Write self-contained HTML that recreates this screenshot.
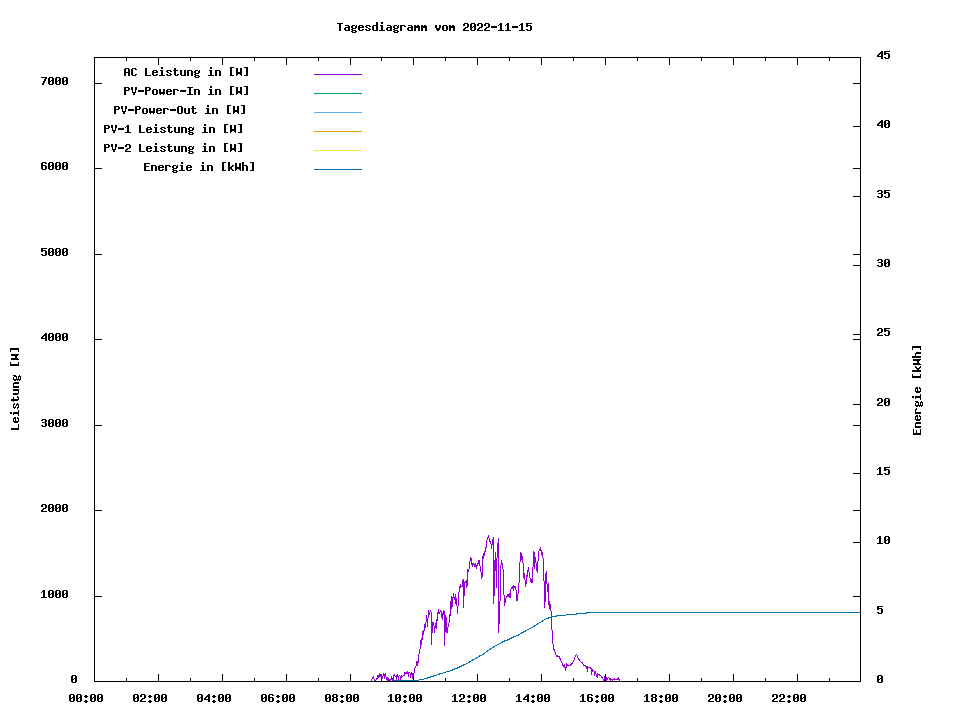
<!DOCTYPE html>
<html><head><meta charset="utf-8"><title>Tagesdiagramm vom 2022-11-15</title>
<style>
html,body{margin:0;padding:0;background:#fff;}
body{width:960px;height:720px;overflow:hidden;}
svg{display:block;}
text{font-family:"Liberation Mono",monospace;font-weight:bold;font-size:13.6px;fill:transparent;}
</style></head><body>
<svg width="960" height="720" viewBox="0 0 960 720">
<defs>
<path id="c45" d="M0 6h6v1h-6zM0 7h6v1h-6z"/>
<path id="c48" d="M1 3h4v1h-4zM0 4h2v1h-2zM4 4h2v1h-2zM0 5h2v1h-2zM4 5h2v1h-2zM0 6h2v1h-2zM3 6h3v1h-3zM0 7h3v1h-3zM4 7h2v1h-2zM0 8h2v1h-2zM4 8h2v1h-2zM0 9h2v1h-2zM4 9h2v1h-2zM1 10h4v1h-4z"/>
<path id="c49" d="M2 3h2v1h-2zM1 4h3v1h-3zM0 5h1v1h-1zM2 5h2v1h-2zM2 6h2v1h-2zM2 7h2v1h-2zM2 8h2v1h-2zM2 9h2v1h-2zM0 10h6v1h-6z"/>
<path id="c50" d="M1 3h4v1h-4zM0 4h2v1h-2zM4 4h2v1h-2zM0 5h2v1h-2zM4 5h2v1h-2zM4 6h2v1h-2zM2 7h3v1h-3zM1 8h2v1h-2zM0 9h2v1h-2zM0 10h6v1h-6z"/>
<path id="c51" d="M1 3h4v1h-4zM0 4h2v1h-2zM4 4h2v1h-2zM4 5h2v1h-2zM1 6h4v1h-4zM4 7h2v1h-2zM4 8h2v1h-2zM0 9h2v1h-2zM4 9h2v1h-2zM1 10h4v1h-4z"/>
<path id="c52" d="M4 3h2v1h-2zM3 4h3v1h-3zM2 5h4v1h-4zM1 6h2v1h-2zM4 6h2v1h-2zM0 7h2v1h-2zM4 7h2v1h-2zM0 8h6v1h-6zM4 9h2v1h-2zM4 10h2v1h-2z"/>
<path id="c53" d="M0 3h6v1h-6zM0 4h2v1h-2zM0 5h5v1h-5zM0 6h2v1h-2zM4 6h2v1h-2zM4 7h2v1h-2zM4 8h2v1h-2zM0 9h2v1h-2zM4 9h2v1h-2zM1 10h4v1h-4z"/>
<path id="c54" d="M1 3h4v1h-4zM0 4h2v1h-2zM4 4h2v1h-2zM0 5h2v1h-2zM0 6h5v1h-5zM0 7h2v1h-2zM4 7h2v1h-2zM0 8h2v1h-2zM4 8h2v1h-2zM0 9h2v1h-2zM4 9h2v1h-2zM1 10h4v1h-4z"/>
<path id="c55" d="M0 3h6v1h-6zM4 4h2v1h-2zM3 5h2v1h-2zM3 6h2v1h-2zM2 7h2v1h-2zM2 8h2v1h-2zM1 9h2v1h-2zM1 10h2v1h-2z"/>
<path id="c56" d="M1 3h4v1h-4zM0 4h2v1h-2zM4 4h2v1h-2zM0 5h2v1h-2zM4 5h2v1h-2zM1 6h4v1h-4zM0 7h2v1h-2zM4 7h2v1h-2zM0 8h2v1h-2zM4 8h2v1h-2zM0 9h2v1h-2zM4 9h2v1h-2zM1 10h4v1h-4z"/>
<path id="c57" d="M1 3h4v1h-4zM0 4h2v1h-2zM4 4h2v1h-2zM0 5h2v1h-2zM4 5h2v1h-2zM0 6h2v1h-2zM4 6h2v1h-2zM1 7h5v1h-5zM4 8h2v1h-2zM0 9h2v1h-2zM4 9h2v1h-2zM1 10h4v1h-4z"/>
<path id="c58" d="M2 4h2v1h-2zM1 5h4v1h-4zM2 6h2v1h-2zM2 9h2v1h-2zM1 10h4v1h-4zM2 11h2v1h-2z"/>
<path id="c65" d="M1 3h4v1h-4zM0 4h2v1h-2zM4 4h2v1h-2zM0 5h2v1h-2zM4 5h2v1h-2zM0 6h2v1h-2zM4 6h2v1h-2zM0 7h6v1h-6zM0 8h2v1h-2zM4 8h2v1h-2zM0 9h2v1h-2zM4 9h2v1h-2zM0 10h2v1h-2zM4 10h2v1h-2z"/>
<path id="c67" d="M1 3h4v1h-4zM0 4h2v1h-2zM4 4h2v1h-2zM0 5h2v1h-2zM0 6h2v1h-2zM0 7h2v1h-2zM0 8h2v1h-2zM0 9h2v1h-2zM4 9h2v1h-2zM1 10h4v1h-4z"/>
<path id="c69" d="M0 3h6v1h-6zM0 4h2v1h-2zM0 5h2v1h-2zM0 6h5v1h-5zM0 7h2v1h-2zM0 8h2v1h-2zM0 9h2v1h-2zM0 10h6v1h-6z"/>
<path id="c73" d="M0 3h6v1h-6zM2 4h2v1h-2zM2 5h2v1h-2zM2 6h2v1h-2zM2 7h2v1h-2zM2 8h2v1h-2zM2 9h2v1h-2zM0 10h6v1h-6z"/>
<path id="c76" d="M0 3h2v1h-2zM0 4h2v1h-2zM0 5h2v1h-2zM0 6h2v1h-2zM0 7h2v1h-2zM0 8h2v1h-2zM0 9h2v1h-2zM0 10h6v1h-6z"/>
<path id="c79" d="M1 3h4v1h-4zM0 4h2v1h-2zM4 4h2v1h-2zM0 5h2v1h-2zM4 5h2v1h-2zM0 6h2v1h-2zM4 6h2v1h-2zM0 7h2v1h-2zM4 7h2v1h-2zM0 8h2v1h-2zM4 8h2v1h-2zM0 9h2v1h-2zM4 9h2v1h-2zM1 10h4v1h-4z"/>
<path id="c80" d="M0 3h5v1h-5zM0 4h2v1h-2zM4 4h2v1h-2zM0 5h2v1h-2zM4 5h2v1h-2zM0 6h5v1h-5zM0 7h2v1h-2zM0 8h2v1h-2zM0 9h2v1h-2zM0 10h2v1h-2z"/>
<path id="c84" d="M0 3h6v1h-6zM2 4h2v1h-2zM2 5h2v1h-2zM2 6h2v1h-2zM2 7h2v1h-2zM2 8h2v1h-2zM2 9h2v1h-2zM2 10h2v1h-2z"/>
<path id="c86" d="M0 3h2v1h-2zM4 3h2v1h-2zM0 4h2v1h-2zM4 4h2v1h-2zM0 5h2v1h-2zM4 5h2v1h-2zM1 6h1v1h-1zM4 6h1v1h-1zM1 7h1v1h-1zM4 7h1v1h-1zM1 8h4v1h-4zM2 9h2v1h-2zM2 10h2v1h-2z"/>
<path id="c87" d="M0 3h2v1h-2zM4 3h2v1h-2zM0 4h2v1h-2zM4 4h2v1h-2zM0 5h2v1h-2zM4 5h2v1h-2zM0 6h2v1h-2zM4 6h2v1h-2zM0 7h6v1h-6zM0 8h6v1h-6zM0 9h2v1h-2zM4 9h2v1h-2zM0 10h1v1h-1zM5 10h1v1h-1z"/>
<path id="c91" d="M1 2h4v1h-4zM1 3h2v1h-2zM1 4h2v1h-2zM1 5h2v1h-2zM1 6h2v1h-2zM1 7h2v1h-2zM1 8h2v1h-2zM1 9h2v1h-2zM1 10h4v1h-4z"/>
<path id="c93" d="M1 2h4v1h-4zM3 3h2v1h-2zM3 4h2v1h-2zM3 5h2v1h-2zM3 6h2v1h-2zM3 7h2v1h-2zM3 8h2v1h-2zM3 9h2v1h-2zM1 10h4v1h-4z"/>
<path id="c97" d="M1 5h4v1h-4zM4 6h2v1h-2zM1 7h5v1h-5zM0 8h2v1h-2zM4 8h2v1h-2zM0 9h2v1h-2zM4 9h2v1h-2zM1 10h5v1h-5z"/>
<path id="c100" d="M4 2h2v1h-2zM4 3h2v1h-2zM4 4h2v1h-2zM1 5h5v1h-5zM0 6h2v1h-2zM4 6h2v1h-2zM0 7h2v1h-2zM4 7h2v1h-2zM0 8h2v1h-2zM4 8h2v1h-2zM0 9h2v1h-2zM4 9h2v1h-2zM1 10h5v1h-5z"/>
<path id="c101" d="M1 5h4v1h-4zM0 6h2v1h-2zM4 6h2v1h-2zM0 7h6v1h-6zM0 8h2v1h-2zM0 9h2v1h-2zM4 9h2v1h-2zM1 10h4v1h-4z"/>
<path id="c103" d="M1 5h3v1h-3zM5 5h1v1h-1zM0 6h2v1h-2zM4 6h2v1h-2zM0 7h2v1h-2zM4 7h2v1h-2zM1 8h4v1h-4zM0 9h2v1h-2zM1 10h4v1h-4zM0 11h2v1h-2zM4 11h2v1h-2zM1 12h4v1h-4z"/>
<path id="c104" d="M0 2h2v1h-2zM0 3h2v1h-2zM0 4h2v1h-2zM0 5h5v1h-5zM0 6h2v1h-2zM4 6h2v1h-2zM0 7h2v1h-2zM4 7h2v1h-2zM0 8h2v1h-2zM4 8h2v1h-2zM0 9h2v1h-2zM4 9h2v1h-2zM0 10h2v1h-2zM4 10h2v1h-2z"/>
<path id="c105" d="M2 2h2v1h-2zM2 3h2v1h-2zM1 5h3v1h-3zM2 6h2v1h-2zM2 7h2v1h-2zM2 8h2v1h-2zM2 9h2v1h-2zM0 10h6v1h-6z"/>
<path id="c107" d="M0 2h2v1h-2zM0 3h2v1h-2zM0 4h2v1h-2zM0 5h2v1h-2zM4 5h2v1h-2zM0 6h2v1h-2zM3 6h2v1h-2zM0 7h4v1h-4zM0 8h4v1h-4zM0 9h2v1h-2zM3 9h2v1h-2zM0 10h2v1h-2zM4 10h2v1h-2z"/>
<path id="c109" d="M0 5h2v1h-2zM3 5h2v1h-2zM0 6h6v1h-6zM0 7h6v1h-6zM0 8h2v1h-2zM4 8h2v1h-2zM0 9h2v1h-2zM4 9h2v1h-2zM0 10h2v1h-2zM4 10h2v1h-2z"/>
<path id="c110" d="M0 5h5v1h-5zM0 6h2v1h-2zM4 6h2v1h-2zM0 7h2v1h-2zM4 7h2v1h-2zM0 8h2v1h-2zM4 8h2v1h-2zM0 9h2v1h-2zM4 9h2v1h-2zM0 10h2v1h-2zM4 10h2v1h-2z"/>
<path id="c111" d="M1 5h4v1h-4zM0 6h2v1h-2zM4 6h2v1h-2zM0 7h2v1h-2zM4 7h2v1h-2zM0 8h2v1h-2zM4 8h2v1h-2zM0 9h2v1h-2zM4 9h2v1h-2zM1 10h4v1h-4z"/>
<path id="c114" d="M0 5h5v1h-5zM0 6h2v1h-2zM4 6h2v1h-2zM0 7h2v1h-2zM0 8h2v1h-2zM0 9h2v1h-2zM0 10h2v1h-2z"/>
<path id="c115" d="M1 5h4v1h-4zM0 6h2v1h-2zM4 6h2v1h-2zM1 7h2v1h-2zM3 8h2v1h-2zM0 9h2v1h-2zM4 9h2v1h-2zM1 10h4v1h-4z"/>
<path id="c116" d="M1 3h2v1h-2zM1 4h2v1h-2zM0 5h5v1h-5zM1 6h2v1h-2zM1 7h2v1h-2zM1 8h2v1h-2zM1 9h2v1h-2zM4 9h2v1h-2zM2 10h3v1h-3z"/>
<path id="c117" d="M0 5h2v1h-2zM4 5h2v1h-2zM0 6h2v1h-2zM4 6h2v1h-2zM0 7h2v1h-2zM4 7h2v1h-2zM0 8h2v1h-2zM4 8h2v1h-2zM0 9h2v1h-2zM4 9h2v1h-2zM1 10h5v1h-5z"/>
<path id="c118" d="M0 5h2v1h-2zM4 5h2v1h-2zM0 6h2v1h-2zM4 6h2v1h-2zM0 7h2v1h-2zM4 7h2v1h-2zM1 8h4v1h-4zM1 9h4v1h-4zM2 10h2v1h-2z"/>
<path id="c119" d="M0 5h2v1h-2zM4 5h2v1h-2zM0 6h2v1h-2zM4 6h2v1h-2zM0 7h2v1h-2zM4 7h2v1h-2zM0 8h6v1h-6zM0 9h6v1h-6zM1 10h1v1h-1zM4 10h1v1h-1z"/>
</defs>
<rect x="0" y="0" width="960" height="720" fill="#ffffff"/>
<g>
<text x="71" y="683" textLength="7" lengthAdjust="spacingAndGlyphs">0</text>
<text x="41" y="598" textLength="28" lengthAdjust="spacingAndGlyphs">1000</text>
<text x="41" y="512" textLength="28" lengthAdjust="spacingAndGlyphs">2000</text>
<text x="41" y="427" textLength="28" lengthAdjust="spacingAndGlyphs">3000</text>
<text x="41" y="341" textLength="28" lengthAdjust="spacingAndGlyphs">4000</text>
<text x="41" y="256" textLength="28" lengthAdjust="spacingAndGlyphs">5000</text>
<text x="41" y="170" textLength="28" lengthAdjust="spacingAndGlyphs">6000</text>
<text x="41" y="85" textLength="28" lengthAdjust="spacingAndGlyphs">7000</text>
<text x="877" y="683" textLength="7" lengthAdjust="spacingAndGlyphs">0</text>
<text x="877" y="614" textLength="7" lengthAdjust="spacingAndGlyphs">5</text>
<text x="877" y="544" textLength="14" lengthAdjust="spacingAndGlyphs">10</text>
<text x="877" y="475" textLength="14" lengthAdjust="spacingAndGlyphs">15</text>
<text x="877" y="406" textLength="14" lengthAdjust="spacingAndGlyphs">20</text>
<text x="877" y="336" textLength="14" lengthAdjust="spacingAndGlyphs">25</text>
<text x="877" y="267" textLength="14" lengthAdjust="spacingAndGlyphs">30</text>
<text x="877" y="198" textLength="14" lengthAdjust="spacingAndGlyphs">35</text>
<text x="877" y="128" textLength="14" lengthAdjust="spacingAndGlyphs">40</text>
<text x="877" y="59" textLength="14" lengthAdjust="spacingAndGlyphs">45</text>
<text x="69" y="702" textLength="35" lengthAdjust="spacingAndGlyphs">00:00</text>
<text x="133" y="702" textLength="35" lengthAdjust="spacingAndGlyphs">02:00</text>
<text x="197" y="702" textLength="35" lengthAdjust="spacingAndGlyphs">04:00</text>
<text x="261" y="702" textLength="35" lengthAdjust="spacingAndGlyphs">06:00</text>
<text x="325" y="702" textLength="35" lengthAdjust="spacingAndGlyphs">08:00</text>
<text x="388" y="702" textLength="35" lengthAdjust="spacingAndGlyphs">10:00</text>
<text x="452" y="702" textLength="35" lengthAdjust="spacingAndGlyphs">12:00</text>
<text x="516" y="702" textLength="35" lengthAdjust="spacingAndGlyphs">14:00</text>
<text x="580" y="702" textLength="35" lengthAdjust="spacingAndGlyphs">16:00</text>
<text x="644" y="702" textLength="35" lengthAdjust="spacingAndGlyphs">18:00</text>
<text x="708" y="702" textLength="35" lengthAdjust="spacingAndGlyphs">20:00</text>
<text x="772" y="702" textLength="35" lengthAdjust="spacingAndGlyphs">22:00</text>
<text x="337" y="31" textLength="196" lengthAdjust="spacingAndGlyphs">Tagesdiagramm vom 2022-11-15</text>
<text x="124" y="76" textLength="126" lengthAdjust="spacingAndGlyphs">AC Leistung in [W]</text>
<text x="124" y="95" textLength="126" lengthAdjust="spacingAndGlyphs">PV-Power-In in [W]</text>
<text x="114" y="114" textLength="133" lengthAdjust="spacingAndGlyphs">PV-Power-Out in [W]</text>
<text x="104" y="133" textLength="140" lengthAdjust="spacingAndGlyphs">PV-1 Leistung in [W]</text>
<text x="104" y="152" textLength="140" lengthAdjust="spacingAndGlyphs">PV-2 Leistung in [W]</text>
<text x="144" y="171" textLength="112" lengthAdjust="spacingAndGlyphs">Energie in [kWh]</text>
<text transform="translate(19,430) rotate(-90)" textLength="84" lengthAdjust="spacingAndGlyphs">Leistung [W]</text>
<text transform="translate(921,435) rotate(-90)" textLength="91" lengthAdjust="spacingAndGlyphs">Energie [kWh]</text>
</g>
<g shape-rendering="crispEdges" fill="#000">
<rect x="94" y="674" width="1" height="8"/>
<rect x="94" y="57" width="1" height="8"/>
<rect x="126" y="678" width="1" height="4"/>
<rect x="126" y="57" width="1" height="4"/>
<rect x="158" y="674" width="1" height="8"/>
<rect x="158" y="57" width="1" height="8"/>
<rect x="190" y="678" width="1" height="4"/>
<rect x="190" y="57" width="1" height="4"/>
<rect x="222" y="674" width="1" height="8"/>
<rect x="222" y="57" width="1" height="8"/>
<rect x="254" y="678" width="1" height="4"/>
<rect x="254" y="57" width="1" height="4"/>
<rect x="286" y="674" width="1" height="8"/>
<rect x="286" y="57" width="1" height="8"/>
<rect x="318" y="678" width="1" height="4"/>
<rect x="318" y="57" width="1" height="4"/>
<rect x="350" y="674" width="1" height="8"/>
<rect x="350" y="57" width="1" height="8"/>
<rect x="381" y="678" width="1" height="4"/>
<rect x="381" y="57" width="1" height="4"/>
<rect x="413" y="674" width="1" height="8"/>
<rect x="413" y="57" width="1" height="8"/>
<rect x="445" y="678" width="1" height="4"/>
<rect x="445" y="57" width="1" height="4"/>
<rect x="477" y="674" width="1" height="8"/>
<rect x="477" y="57" width="1" height="8"/>
<rect x="509" y="678" width="1" height="4"/>
<rect x="509" y="57" width="1" height="4"/>
<rect x="541" y="674" width="1" height="8"/>
<rect x="541" y="57" width="1" height="8"/>
<rect x="573" y="678" width="1" height="4"/>
<rect x="573" y="57" width="1" height="4"/>
<rect x="605" y="674" width="1" height="8"/>
<rect x="605" y="57" width="1" height="8"/>
<rect x="637" y="678" width="1" height="4"/>
<rect x="637" y="57" width="1" height="4"/>
<rect x="669" y="674" width="1" height="8"/>
<rect x="669" y="57" width="1" height="8"/>
<rect x="701" y="678" width="1" height="4"/>
<rect x="701" y="57" width="1" height="4"/>
<rect x="733" y="674" width="1" height="8"/>
<rect x="733" y="57" width="1" height="8"/>
<rect x="765" y="678" width="1" height="4"/>
<rect x="765" y="57" width="1" height="4"/>
<rect x="797" y="674" width="1" height="8"/>
<rect x="797" y="57" width="1" height="8"/>
<rect x="829" y="678" width="1" height="4"/>
<rect x="829" y="57" width="1" height="4"/>
<rect x="94" y="681" width="8" height="1"/>
<rect x="853" y="681" width="8" height="1"/>
<rect x="94" y="596" width="8" height="1"/>
<rect x="853" y="596" width="8" height="1"/>
<rect x="94" y="510" width="8" height="1"/>
<rect x="853" y="510" width="8" height="1"/>
<rect x="94" y="425" width="8" height="1"/>
<rect x="853" y="425" width="8" height="1"/>
<rect x="94" y="339" width="8" height="1"/>
<rect x="853" y="339" width="8" height="1"/>
<rect x="94" y="254" width="8" height="1"/>
<rect x="853" y="254" width="8" height="1"/>
<rect x="94" y="168" width="8" height="1"/>
<rect x="853" y="168" width="8" height="1"/>
<rect x="94" y="83" width="8" height="1"/>
<rect x="853" y="83" width="8" height="1"/>
<rect x="853" y="681" width="8" height="1"/>
<rect x="853" y="612" width="8" height="1"/>
<rect x="853" y="542" width="8" height="1"/>
<rect x="853" y="473" width="8" height="1"/>
<rect x="853" y="404" width="8" height="1"/>
<rect x="853" y="334" width="8" height="1"/>
<rect x="853" y="265" width="8" height="1"/>
<rect x="853" y="196" width="8" height="1"/>
<rect x="853" y="126" width="8" height="1"/>
<rect x="853" y="57" width="8" height="1"/>
<rect x="314" y="74" width="48" height="1" fill="#9400d3"/>
<rect x="314" y="93" width="48" height="1" fill="#009e73"/>
<rect x="314" y="112" width="48" height="1" fill="#56b4e9"/>
<rect x="314" y="131" width="48" height="1" fill="#e69f00"/>
<rect x="314" y="150" width="48" height="1" fill="#f0e442"/>
<rect x="314" y="169" width="48" height="1" fill="#0072b2"/>
<path fill="#9400d3" d="M371 679h1v2h-1zM372 677h1v2h-1zM373 676h1v3h-1zM374 679h1v2h-1zM375 680h1v1h-1zM376 678h1v2h-1zM377 675h1v4h-1zM378 675h1v3h-1zM379 673h1v4h-1zM380 674h1v3h-1zM381 674h1v5h-1zM382 676h1v3h-1zM383 673h1v3h-1zM384 674h1v5h-1zM385 673h1v4h-1zM386 677h1v3h-1zM387 677h1v4h-1zM388 678h1v3h-1zM389 679h1v2h-1zM390 679h1v2h-1zM391 676h1v4h-1zM392 678h1v3h-1zM393 675h1v6h-1zM394 674h1v2h-1zM395 676h1v1h-1zM396 675h1v5h-1zM397 674h1v3h-1zM398 676h1v4h-1zM399 675h1v1h-1zM400 676h1v4h-1zM401 675h1v3h-1zM402 676h1v1h-1zM403 675h1v1h-1zM404 672h1v4h-1zM405 672h1v2h-1zM406 672h1v2h-1zM407 671h1v3h-1zM408 672h1v5h-1zM409 672h1v1h-1zM410 673h1v5h-1zM411 672h1v3h-1zM412 673h1v6h-1zM413 673h1v3h-1zM414 668h1v5h-1zM415 666h1v2h-1zM416 661h1v5h-1zM417 661h1v5h-1zM418 654h1v9h-1zM419 649h1v5h-1zM420 640h1v9h-1zM421 638h1v7h-1zM422 631h1v9h-1zM423 630h1v5h-1zM424 624h1v7h-1zM425 622h1v6h-1zM426 615h1v7h-1zM427 618h1v9h-1zM428 610h1v8h-1zM429 612h1v3h-1zM430 610h1v2h-1zM431 612h1v33h-1zM432 622h1v11h-1zM433 622h1v4h-1zM434 626h1v7h-1zM435 623h1v5h-1zM436 619h1v10h-1zM437 612h1v9h-1zM438 609h1v5h-1zM439 612h1v2h-1zM440 610h1v2h-1zM441 611h1v7h-1zM442 613h1v7h-1zM443 610h1v5h-1zM444 611h1v35h-1zM445 615h1v17h-1zM446 617h1v16h-1zM447 627h1v6h-1zM448 623h1v4h-1zM449 614h1v9h-1zM450 601h1v15h-1zM451 596h1v13h-1zM452 597h1v10h-1zM453 593h1v5h-1zM454 597h1v3h-1zM455 594h1v10h-1zM456 598h1v8h-1zM457 606h1v8h-1zM458 592h1v14h-1zM459 586h1v6h-1zM460 584h1v4h-1zM461 586h1v1h-1zM462 580h1v7h-1zM463 579h1v29h-1zM464 582h1v14h-1zM465 581h1v2h-1zM466 580h1v8h-1zM467 569h1v17h-1zM468 569h1v3h-1zM469 561h1v8h-1zM470 557h1v4h-1zM471 558h1v7h-1zM472 563h1v4h-1zM473 563h1v2h-1zM474 564h1v3h-1zM475 563h1v4h-1zM476 565h1v4h-1zM477 563h1v3h-1zM478 560h1v4h-1zM479 560h1v6h-1zM480 566h1v6h-1zM481 572h1v7h-1zM482 556h1v21h-1zM483 553h1v6h-1zM484 551h1v5h-1zM485 547h1v5h-1zM486 540h1v8h-1zM487 537h1v3h-1zM488 535h1v3h-1zM489 538h1v4h-1zM490 541h1v3h-1zM491 544h1v5h-1zM492 539h1v6h-1zM493 537h1v67h-1zM494 560h1v36h-1zM495 552h1v19h-1zM496 558h1v30h-1zM497 543h1v15h-1zM498 538h1v95h-1zM499 601h1v23h-1zM500 565h1v36h-1zM501 560h1v5h-1zM502 563h1v6h-1zM503 569h1v26h-1zM504 595h1v11h-1zM505 598h1v5h-1zM506 596h1v2h-1zM507 594h1v3h-1zM508 594h1v3h-1zM509 593h1v5h-1zM510 589h1v9h-1zM511 587h1v2h-1zM512 586h1v3h-1zM513 585h1v6h-1zM514 586h1v2h-1zM515 586h1v4h-1zM516 590h1v11h-1zM517 594h1v7h-1zM518 583h1v11h-1zM519 562h1v21h-1zM520 552h1v10h-1zM521 553h1v7h-1zM522 556h1v7h-1zM523 563h1v15h-1zM524 573h1v7h-1zM525 580h1v7h-1zM526 575h1v9h-1zM527 570h1v7h-1zM528 567h1v5h-1zM529 572h1v6h-1zM530 578h1v4h-1zM531 579h1v4h-1zM532 567h1v16h-1zM533 551h1v16h-1zM534 552h1v17h-1zM535 557h1v6h-1zM536 563h1v8h-1zM537 561h1v12h-1zM538 551h1v10h-1zM539 549h1v2h-1zM540 547h1v4h-1zM541 550h1v5h-1zM542 552h1v6h-1zM543 558h1v23h-1zM544 581h1v27h-1zM545 573h1v29h-1zM546 571h1v13h-1zM547 584h1v8h-1zM548 583h1v22h-1zM549 601h1v8h-1zM550 604h1v7h-1zM551 611h1v19h-1zM552 630h1v14h-1zM553 644h1v6h-1zM554 649h1v3h-1zM555 652h1v3h-1zM556 655h1v2h-1zM557 655h1v2h-1zM558 656h1v1h-1zM559 656h1v3h-1zM560 658h1v3h-1zM561 661h1v2h-1zM562 663h1v3h-1zM563 665h1v2h-1zM564 664h1v4h-1zM565 667h1v4h-1zM566 663h1v5h-1zM567 664h1v2h-1zM568 665h1v1h-1zM569 665h1v1h-1zM570 664h1v2h-1zM571 663h1v2h-1zM572 662h1v2h-1zM573 660h1v2h-1zM574 657h1v3h-1zM575 655h1v2h-1zM576 654h1v1h-1zM577 655h1v3h-1zM578 658h1v2h-1zM579 659h1v2h-1zM580 661h1v1h-1zM581 662h1v1h-1zM582 662h1v2h-1zM583 664h1v2h-1zM584 665h1v1h-1zM585 665h1v2h-1zM586 666h1v3h-1zM587 666h1v6h-1zM588 667h1v1h-1zM589 667h1v1h-1zM590 667h1v2h-1zM591 668h1v7h-1zM592 669h1v3h-1zM593 670h1v1h-1zM594 671h1v5h-1zM595 671h1v3h-1zM596 674h1v3h-1zM597 673h1v5h-1zM598 674h1v1h-1zM599 674h1v2h-1zM600 675h1v1h-1zM601 676h1v2h-1zM602 677h1v2h-1zM603 679h1v2h-1zM604 676h1v5h-1zM606 677h1v4h-1zM607 678h1v2h-1zM608 677h1v1h-1zM609 678h1v2h-1zM610 678h1v3h-1zM611 679h1v1h-1zM612 679h1v2h-1zM613 679h1v1h-1zM614 678h1v2h-1zM615 679h1v1h-1zM616 679h1v1h-1zM617 678h1v2h-1zM618 677h1v3h-1zM619 679h1v2h-1z"/>
<path fill="#0072b2" d="M586 612h274v1h-274zM576 613h11v1h-11zM566 614h11v1h-11zM556 615h10v1h-10zM551 616h6v1h-6zM548 617h3v1h-3zM546 618h3v1h-3zM544 619h2v1h-2zM542 620h2v1h-2zM541 621h2v1h-2zM539 622h2v1h-2zM537 623h2v1h-2zM536 624h2v1h-2zM534 625h2v1h-2zM533 626h2v1h-2zM531 627h2v1h-2zM529 628h2v1h-2zM527 629h2v1h-2zM525 630h2v1h-2zM523 631h3v1h-3zM521 632h3v1h-3zM520 633h2v1h-2zM518 634h2v1h-2zM516 635h3v1h-3zM513 636h3v1h-3zM511 637h3v1h-3zM509 638h3v1h-3zM507 639h3v1h-3zM504 640h4v1h-4zM502 641h3v1h-3zM501 642h2v1h-2zM499 643h2v1h-2zM497 644h2v1h-2zM495 645h2v1h-2zM493 646h2v1h-2zM492 647h2v1h-2zM490 648h2v1h-2zM489 649h2v1h-2zM487 650h2v1h-2zM486 651h2v1h-2zM485 652h1v1h-1zM483 653h2v1h-2zM482 654h2v1h-2zM479 655h3v1h-3zM478 656h2v1h-2zM476 657h2v1h-2zM475 658h2v1h-2zM472 659h3v1h-3zM471 660h2v1h-2zM469 661h2v1h-2zM468 662h2v1h-2zM466 663h2v1h-2zM463 664h3v1h-3zM461 665h3v1h-3zM459 666h3v1h-3zM457 667h3v1h-3zM454 668h4v1h-4zM452 669h3v1h-3zM450 670h3v1h-3zM446 671h4v1h-4zM443 672h3v1h-3zM439 673h4v1h-4zM437 674h3v1h-3zM433 675h4v1h-4zM430 676h4v1h-4zM427 677h4v1h-4zM424 678h4v1h-4zM419 679h5v1h-5zM394 680h25v1h-25z"/>
<rect x="94" y="57" width="767" height="1"/>
<rect x="94" y="681" width="767" height="1"/>
<rect x="94" y="57" width="1" height="625"/>
<rect x="860" y="57" width="1" height="625"/>
<use href="#c48" x="71" y="672"/>
<use href="#c49" x="41" y="587"/><use href="#c48" x="48" y="587"/><use href="#c48" x="55" y="587"/><use href="#c48" x="62" y="587"/>
<use href="#c50" x="41" y="501"/><use href="#c48" x="48" y="501"/><use href="#c48" x="55" y="501"/><use href="#c48" x="62" y="501"/>
<use href="#c51" x="41" y="416"/><use href="#c48" x="48" y="416"/><use href="#c48" x="55" y="416"/><use href="#c48" x="62" y="416"/>
<use href="#c52" x="41" y="330"/><use href="#c48" x="48" y="330"/><use href="#c48" x="55" y="330"/><use href="#c48" x="62" y="330"/>
<use href="#c53" x="41" y="245"/><use href="#c48" x="48" y="245"/><use href="#c48" x="55" y="245"/><use href="#c48" x="62" y="245"/>
<use href="#c54" x="41" y="159"/><use href="#c48" x="48" y="159"/><use href="#c48" x="55" y="159"/><use href="#c48" x="62" y="159"/>
<use href="#c55" x="41" y="74"/><use href="#c48" x="48" y="74"/><use href="#c48" x="55" y="74"/><use href="#c48" x="62" y="74"/>
<use href="#c48" x="877" y="672"/>
<use href="#c53" x="877" y="603"/>
<use href="#c49" x="877" y="533"/><use href="#c48" x="884" y="533"/>
<use href="#c49" x="877" y="464"/><use href="#c53" x="884" y="464"/>
<use href="#c50" x="877" y="395"/><use href="#c48" x="884" y="395"/>
<use href="#c50" x="877" y="325"/><use href="#c53" x="884" y="325"/>
<use href="#c51" x="877" y="256"/><use href="#c48" x="884" y="256"/>
<use href="#c51" x="877" y="187"/><use href="#c53" x="884" y="187"/>
<use href="#c52" x="877" y="117"/><use href="#c48" x="884" y="117"/>
<use href="#c52" x="877" y="48"/><use href="#c53" x="884" y="48"/>
<use href="#c48" x="69" y="691"/><use href="#c48" x="76" y="691"/><use href="#c58" x="83" y="691"/><use href="#c48" x="90" y="691"/><use href="#c48" x="97" y="691"/>
<use href="#c48" x="133" y="691"/><use href="#c50" x="140" y="691"/><use href="#c58" x="147" y="691"/><use href="#c48" x="154" y="691"/><use href="#c48" x="161" y="691"/>
<use href="#c48" x="197" y="691"/><use href="#c52" x="204" y="691"/><use href="#c58" x="211" y="691"/><use href="#c48" x="218" y="691"/><use href="#c48" x="225" y="691"/>
<use href="#c48" x="261" y="691"/><use href="#c54" x="268" y="691"/><use href="#c58" x="275" y="691"/><use href="#c48" x="282" y="691"/><use href="#c48" x="289" y="691"/>
<use href="#c48" x="325" y="691"/><use href="#c56" x="332" y="691"/><use href="#c58" x="339" y="691"/><use href="#c48" x="346" y="691"/><use href="#c48" x="353" y="691"/>
<use href="#c49" x="388" y="691"/><use href="#c48" x="395" y="691"/><use href="#c58" x="402" y="691"/><use href="#c48" x="409" y="691"/><use href="#c48" x="416" y="691"/>
<use href="#c49" x="452" y="691"/><use href="#c50" x="459" y="691"/><use href="#c58" x="466" y="691"/><use href="#c48" x="473" y="691"/><use href="#c48" x="480" y="691"/>
<use href="#c49" x="516" y="691"/><use href="#c52" x="523" y="691"/><use href="#c58" x="530" y="691"/><use href="#c48" x="537" y="691"/><use href="#c48" x="544" y="691"/>
<use href="#c49" x="580" y="691"/><use href="#c54" x="587" y="691"/><use href="#c58" x="594" y="691"/><use href="#c48" x="601" y="691"/><use href="#c48" x="608" y="691"/>
<use href="#c49" x="644" y="691"/><use href="#c56" x="651" y="691"/><use href="#c58" x="658" y="691"/><use href="#c48" x="665" y="691"/><use href="#c48" x="672" y="691"/>
<use href="#c50" x="708" y="691"/><use href="#c48" x="715" y="691"/><use href="#c58" x="722" y="691"/><use href="#c48" x="729" y="691"/><use href="#c48" x="736" y="691"/>
<use href="#c50" x="772" y="691"/><use href="#c50" x="779" y="691"/><use href="#c58" x="786" y="691"/><use href="#c48" x="793" y="691"/><use href="#c48" x="800" y="691"/>
<use href="#c84" x="337" y="20"/><use href="#c97" x="344" y="20"/><use href="#c103" x="351" y="20"/><use href="#c101" x="358" y="20"/><use href="#c115" x="365" y="20"/><use href="#c100" x="372" y="20"/><use href="#c105" x="379" y="20"/><use href="#c97" x="386" y="20"/><use href="#c103" x="393" y="20"/><use href="#c114" x="400" y="20"/><use href="#c97" x="407" y="20"/><use href="#c109" x="414" y="20"/><use href="#c109" x="421" y="20"/><use href="#c118" x="435" y="20"/><use href="#c111" x="442" y="20"/><use href="#c109" x="449" y="20"/><use href="#c50" x="463" y="20"/><use href="#c48" x="470" y="20"/><use href="#c50" x="477" y="20"/><use href="#c50" x="484" y="20"/><use href="#c45" x="491" y="20"/><use href="#c49" x="498" y="20"/><use href="#c49" x="505" y="20"/><use href="#c45" x="512" y="20"/><use href="#c49" x="519" y="20"/><use href="#c53" x="526" y="20"/>
<use href="#c65" x="124" y="65"/><use href="#c67" x="131" y="65"/><use href="#c76" x="145" y="65"/><use href="#c101" x="152" y="65"/><use href="#c105" x="159" y="65"/><use href="#c115" x="166" y="65"/><use href="#c116" x="173" y="65"/><use href="#c117" x="180" y="65"/><use href="#c110" x="187" y="65"/><use href="#c103" x="194" y="65"/><use href="#c105" x="208" y="65"/><use href="#c110" x="215" y="65"/><use href="#c91" x="229" y="65"/><use href="#c87" x="236" y="65"/><use href="#c93" x="243" y="65"/>
<use href="#c80" x="124" y="84"/><use href="#c86" x="131" y="84"/><use href="#c45" x="138" y="84"/><use href="#c80" x="145" y="84"/><use href="#c111" x="152" y="84"/><use href="#c119" x="159" y="84"/><use href="#c101" x="166" y="84"/><use href="#c114" x="173" y="84"/><use href="#c45" x="180" y="84"/><use href="#c73" x="187" y="84"/><use href="#c110" x="194" y="84"/><use href="#c105" x="208" y="84"/><use href="#c110" x="215" y="84"/><use href="#c91" x="229" y="84"/><use href="#c87" x="236" y="84"/><use href="#c93" x="243" y="84"/>
<use href="#c80" x="114" y="103"/><use href="#c86" x="121" y="103"/><use href="#c45" x="128" y="103"/><use href="#c80" x="135" y="103"/><use href="#c111" x="142" y="103"/><use href="#c119" x="149" y="103"/><use href="#c101" x="156" y="103"/><use href="#c114" x="163" y="103"/><use href="#c45" x="170" y="103"/><use href="#c79" x="177" y="103"/><use href="#c117" x="184" y="103"/><use href="#c116" x="191" y="103"/><use href="#c105" x="205" y="103"/><use href="#c110" x="212" y="103"/><use href="#c91" x="226" y="103"/><use href="#c87" x="233" y="103"/><use href="#c93" x="240" y="103"/>
<use href="#c80" x="104" y="122"/><use href="#c86" x="111" y="122"/><use href="#c45" x="118" y="122"/><use href="#c49" x="125" y="122"/><use href="#c76" x="139" y="122"/><use href="#c101" x="146" y="122"/><use href="#c105" x="153" y="122"/><use href="#c115" x="160" y="122"/><use href="#c116" x="167" y="122"/><use href="#c117" x="174" y="122"/><use href="#c110" x="181" y="122"/><use href="#c103" x="188" y="122"/><use href="#c105" x="202" y="122"/><use href="#c110" x="209" y="122"/><use href="#c91" x="223" y="122"/><use href="#c87" x="230" y="122"/><use href="#c93" x="237" y="122"/>
<use href="#c80" x="104" y="141"/><use href="#c86" x="111" y="141"/><use href="#c45" x="118" y="141"/><use href="#c50" x="125" y="141"/><use href="#c76" x="139" y="141"/><use href="#c101" x="146" y="141"/><use href="#c105" x="153" y="141"/><use href="#c115" x="160" y="141"/><use href="#c116" x="167" y="141"/><use href="#c117" x="174" y="141"/><use href="#c110" x="181" y="141"/><use href="#c103" x="188" y="141"/><use href="#c105" x="202" y="141"/><use href="#c110" x="209" y="141"/><use href="#c91" x="223" y="141"/><use href="#c87" x="230" y="141"/><use href="#c93" x="237" y="141"/>
<use href="#c69" x="144" y="160"/><use href="#c110" x="151" y="160"/><use href="#c101" x="158" y="160"/><use href="#c114" x="165" y="160"/><use href="#c103" x="172" y="160"/><use href="#c105" x="179" y="160"/><use href="#c101" x="186" y="160"/><use href="#c105" x="200" y="160"/><use href="#c110" x="207" y="160"/><use href="#c91" x="221" y="160"/><use href="#c107" x="228" y="160"/><use href="#c87" x="235" y="160"/><use href="#c104" x="242" y="160"/><use href="#c93" x="249" y="160"/>
<g transform="translate(8,430) rotate(-90)"><use href="#c76" x="0" y="0"/><use href="#c101" x="7" y="0"/><use href="#c105" x="14" y="0"/><use href="#c115" x="21" y="0"/><use href="#c116" x="28" y="0"/><use href="#c117" x="35" y="0"/><use href="#c110" x="42" y="0"/><use href="#c103" x="49" y="0"/><use href="#c91" x="63" y="0"/><use href="#c87" x="70" y="0"/><use href="#c93" x="77" y="0"/></g>
<g transform="translate(910,435) rotate(-90)"><use href="#c69" x="0" y="0"/><use href="#c110" x="7" y="0"/><use href="#c101" x="14" y="0"/><use href="#c114" x="21" y="0"/><use href="#c103" x="28" y="0"/><use href="#c105" x="35" y="0"/><use href="#c101" x="42" y="0"/><use href="#c91" x="56" y="0"/><use href="#c107" x="63" y="0"/><use href="#c87" x="70" y="0"/><use href="#c104" x="77" y="0"/><use href="#c93" x="84" y="0"/></g>
</g>
</svg>
</body></html>
